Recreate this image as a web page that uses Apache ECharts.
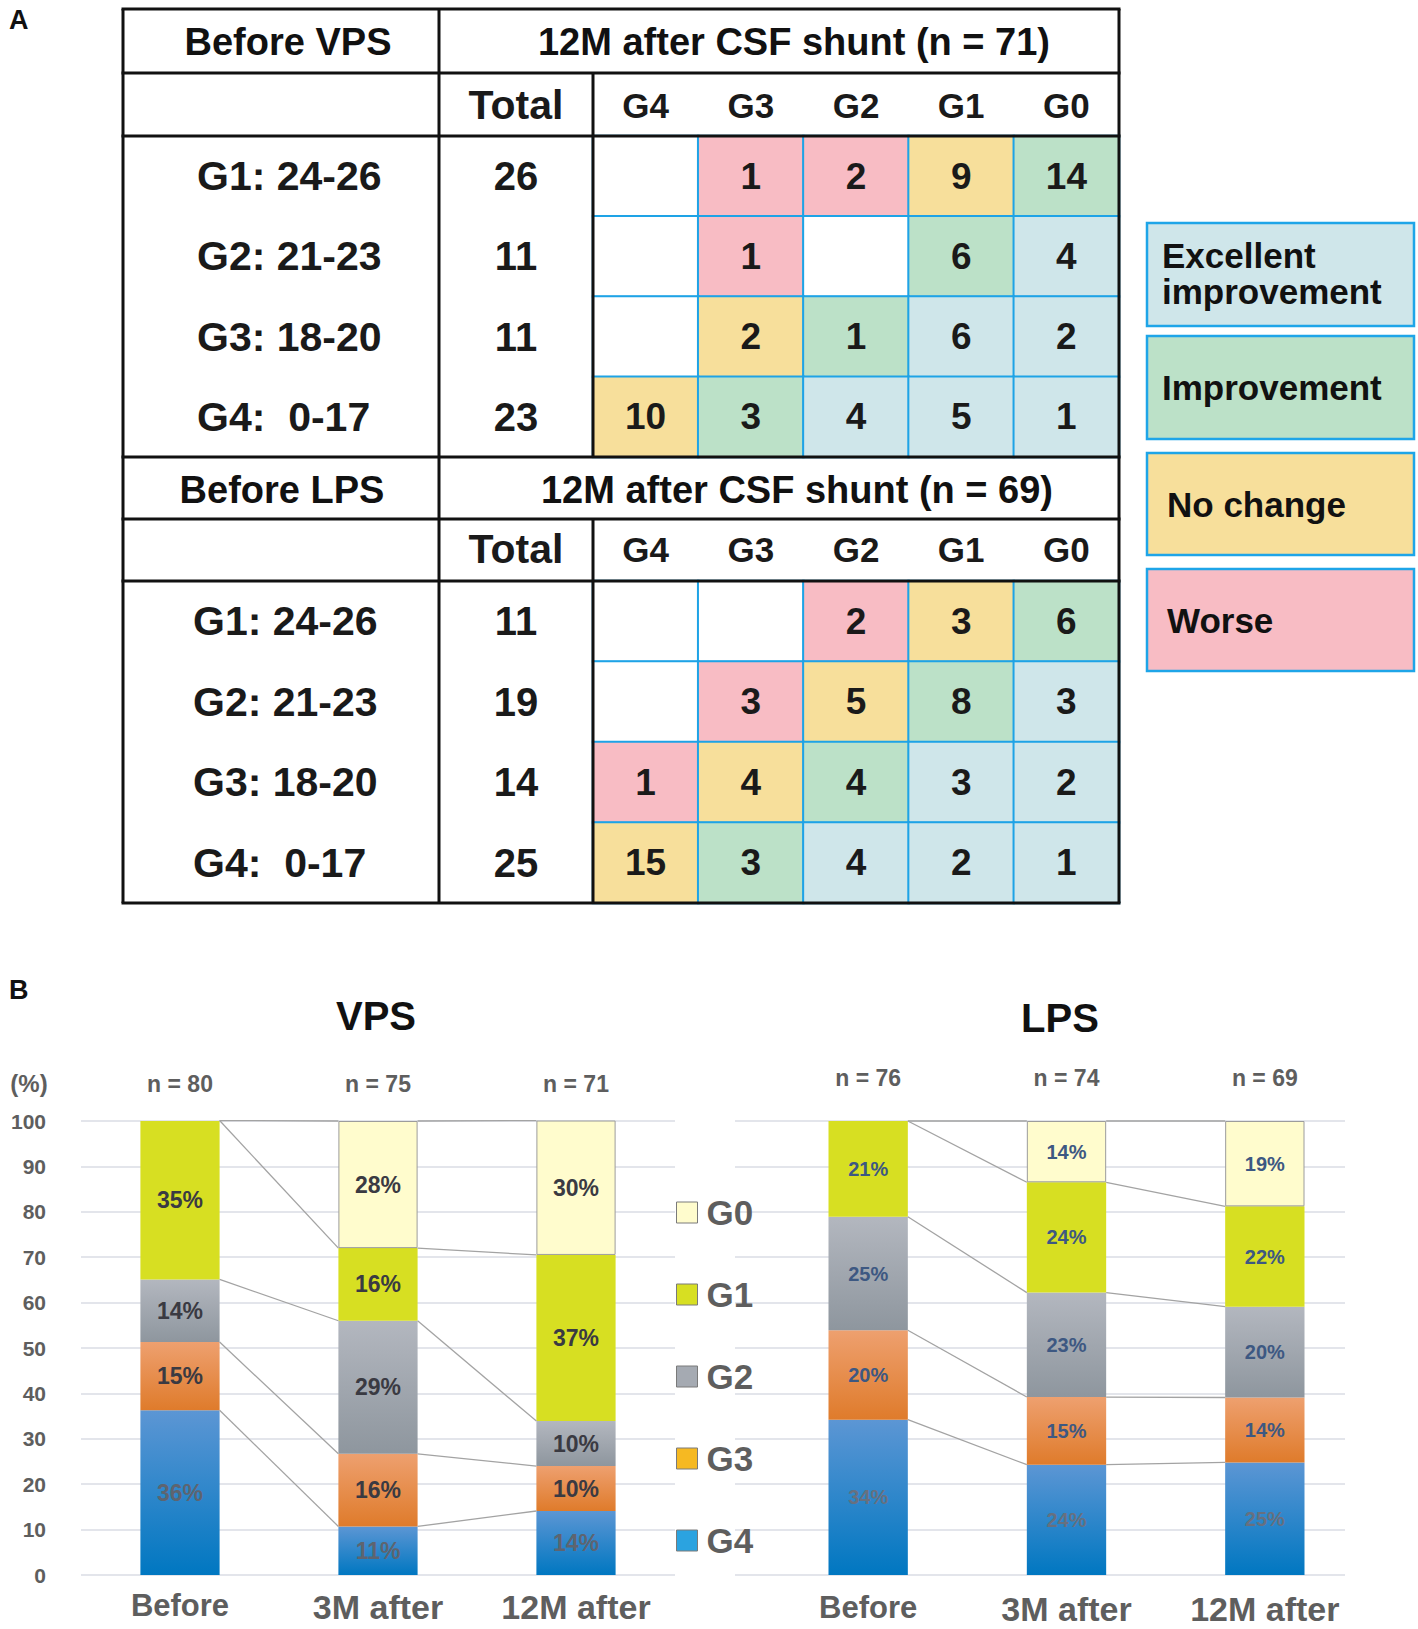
<!DOCTYPE html>
<html><head><meta charset="utf-8">
<script src="https://cdn.jsdelivr.net/npm/echarts@6/dist/echarts.min.js"></script>
<style>html,body{margin:0;padding:0;background:#fff}#c{width:1418px;height:1629px}</style>
</head><body><div id="c"></div>
<script>
// ---------- Panel A data ----------
const gradeCols = ['G4','G3','G2','G1','G0'];
const rowLabels = ['G1: 24-26','G2: 21-23','G3: 18-20','G4:  0-17'];
const vpsTotals = [26, 11, 11, 23];
const vpsCells = [[0,1,2,9,14],[0,1,0,6,4],[0,2,1,6,2],[10,3,4,5,1]];
const lpsTotals = [11, 19, 14, 25];
const lpsCells = [[0,0,2,3,6],[0,3,5,8,3],[1,4,4,3,2],[15,3,4,2,1]];
const outcomeNames = ['Excellent\nimprovement','Improvement','No change','Worse'];

// ---------- Panel B data (percent of patients) ----------
const timepoints = ['Before','3M after','12M after'];
const vpsN = [80, 75, 71];
const lpsN = [76, 74, 69];
const vpsG4 = [36.3, 10.7, 14.1];
const vpsG3 = [15.0, 16.0, 9.9];
const vpsG2 = [13.8, 29.3, 9.9];
const vpsG1 = [35.0, 16.0, 36.6];
const vpsG0 = [0, 28.0, 29.6];
const lpsG4 = [34.2, 24.3, 24.8];
const lpsG3 = [19.7, 14.9, 14.3];
const lpsG2 = [25.0, 23.0, 20.0];
const lpsG1 = [21.1, 24.3, 22.1];
const lpsG0 = [0, 13.5, 18.8];
const legendNames = ['G0','G1','G2','G3','G4'];

// ---------- styles ----------
const F = "'Liberation Sans', Arial, Helvetica, sans-serif";
const FN = "'Liberation Sans Narrow', 'Liberation Sans', Arial, sans-serif";
const outcomeColors = ['#CFE6EA','#BCE1C8','#F7DF9B','#F8BCC4'];
const cellBorder = '#1EA3E6';
const grad = (a,b)=>new echarts.graphic.LinearGradient(0,0,0,1,[{offset:0,color:a},{offset:1,color:b}]);
const barColors = {
  G4: ()=>grad('#5C96D4','#0077C1'),
  G3: ()=>grad('#EEA06F','#DF7B2B'),
  G2: ()=>grad('#B3B7BF','#8E969E'),
  G1: ()=>'#D7DF22',
  G0: ()=>'#FFFCCD'
};

function cellData(cells){
  const out=[];
  cells.forEach((row,r)=>row.forEach((v,c)=>{
    const diff = (r+1) - (4-c);
    const cls = diff<0 ? 3 : diff===0 ? 2 : diff===1 ? 1 : 0;
    out.push({value:[c,r,v], itemStyle:{color: v>0 ? outcomeColors[cls] : '#FFFFFF'}});
  }));
  return out;
}
function totalData(t){ return t.map((v,r)=>({value:[0,r,v], itemStyle:{color:'#FFFFFF'}})); }

function cumulative(series){ // series: [G4,G3,G2,G1,G0]
  const out=[]; const acc=[0,0,0];
  series.forEach(s=>{ s.forEach((v,i)=>acc[i]+=v); out.push(acc.slice()); });
  return out;
}
function connectorData(series){
  const cum = cumulative(series); const d=[];
  for(let i=0;i<2;i++) cum.forEach(c=>d.push([i, c[i], c[i+1]]));
  return d;
}
function connectorItem(params, api){
  const i = api.value(0);
  const p1 = api.coord([i, api.value(1)]);
  const p2 = api.coord([i+1, api.value(2)]);
  const bw = api.size([1,0])[0]*0.4;
  return {type:'line', shape:{x1:p1[0]+bw/2, y1:p1[1], x2:p2[0]-bw/2, y2:p2[1]},
          style:{stroke:'#A3A3A3', lineWidth:1.3}};
}

// ---------- layout ----------
const X0=123, X1=439, X2=593, X3=1119;
const Y=[9,73,136,457,519,581,903];

const grids = [
  {left:X1, top:Y[2], width:X2-X1, height:Y[3]-Y[2]},   //0 VPS total
  {left:X2, top:Y[2], width:X3-X2, height:Y[3]-Y[2]},   //1 VPS cells
  {left:X1, top:Y[5], width:X2-X1, height:Y[6]-Y[5]},   //2 LPS total
  {left:X2, top:Y[5], width:X3-X2, height:Y[6]-Y[5]},   //3 LPS cells
  {left:81, top:1121, width:594, height:454},           //4 VPS bars
  {left:735, top:1121, width:610, height:454},          //5 LPS gridlines
  {left:769, top:1121, width:595, height:454}           //6 LPS bars
];

const hid = {show:false};
const timeLabel = (margin)=>({margin, interval:0, fontFamily:F, fontWeight:'bold', color:'#5E5E5E',
   formatter:(v,i)=> i===0 ? '{a|'+v+'}' : '{b|'+v+'}',
   rich:{a:{fontFamily:F, fontWeight:'bold', fontSize:31, color:'#5E5E5E'},
         b:{fontFamily:F, fontWeight:'bold', fontSize:34, color:'#5E5E5E'}}});
const xAxis = [
  {gridIndex:0, type:'category', data:['Total'], position:'top', axisLine:hid, axisTick:hid,
   axisLabel:{margin:31, verticalAlign:'middle', fontFamily:FN, fontWeight:'bold', fontSize:41, color:'#1a1a1a'}},
  {gridIndex:1, type:'category', data:gradeCols, position:'top', axisLine:hid, axisTick:hid,
   axisLabel:{margin:31, verticalAlign:'middle', fontFamily:F, fontWeight:'bold', fontSize:35, color:'#1a1a1a'}},
  {gridIndex:2, type:'category', data:['Total'], position:'top', axisLine:hid, axisTick:hid,
   axisLabel:{margin:32, verticalAlign:'middle', fontFamily:FN, fontWeight:'bold', fontSize:41, color:'#1a1a1a'}},
  {gridIndex:3, type:'category', data:gradeCols, position:'top', axisLine:hid, axisTick:hid,
   axisLabel:{margin:32, verticalAlign:'middle', fontFamily:F, fontWeight:'bold', fontSize:35, color:'#1a1a1a'}},
  {gridIndex:4, type:'category', data:timepoints, axisLine:hid, axisTick:hid, axisLabel:timeLabel(15)},
  {gridIndex:5, type:'category', data:timepoints, show:false},
  {gridIndex:6, type:'category', data:timepoints, axisLine:hid, axisTick:hid, axisLabel:timeLabel(17)},
  {gridIndex:4, type:'category', data:vpsN.map(n=>'n = '+n), position:'top', axisLine:hid, axisTick:hid,
   axisLabel:{margin:37, verticalAlign:'middle', fontFamily:F, fontWeight:'bold', fontSize:23, color:'#5E5E5E', interval:0}},
  {gridIndex:6, type:'category', data:lpsN.map(n=>'n = '+n), position:'top', axisLine:hid, axisTick:hid,
   axisLabel:{margin:43, verticalAlign:'middle', fontFamily:F, fontWeight:'bold', fontSize:23, color:'#5E5E5E', interval:0}}
];
const rowAxisLabel = (m)=>({margin:m, align:'left', fontFamily:F, fontWeight:'bold', fontSize:41, color:'#1a1a1a'});
const valueAxis = (gi, showLabel, showSplit)=>({gridIndex:gi, type:'value', min:0, max:100, interval:10,
   axisLine:hid, axisTick:hid,
   axisLabel:{show:showLabel, margin:35, fontFamily:F, fontWeight:'bold', fontSize:21, color:'#5E5E5E'},
   splitLine:{show:showSplit, lineStyle:{color:'#DADDE5', width:1.6}}});
const yAxis = [
  {gridIndex:0, type:'category', data:rowLabels, inverse:true, axisLine:hid, axisTick:hid, axisLabel:rowAxisLabel(X1-197)},
  {gridIndex:1, type:'category', data:rowLabels, inverse:true, show:false},
  {gridIndex:2, type:'category', data:rowLabels, inverse:true, axisLine:hid, axisTick:hid, axisLabel:rowAxisLabel(X1-193)},
  {gridIndex:3, type:'category', data:rowLabels, inverse:true, show:false},
  valueAxis(4, true, true),
  valueAxis(5, false, true),
  valueAxis(6, false, false)
];

const cellLabel = {show:true, fontFamily:F, fontWeight:'bold', fontSize:37, color:'#1a1a1a',
  formatter:p=>p.value[2]>0 ? String(p.value[2]) : ''};
const totalLabel = {show:true, fontFamily:F, fontWeight:'bold', fontSize:40, color:'#1a1a1a',
  formatter:p=>String(p.value[2])};
const series = [
  {type:'heatmap', xAxisIndex:0, yAxisIndex:0, data:totalData(vpsTotals), silent:true,
   itemStyle:{borderWidth:0}, label:totalLabel},
  {type:'heatmap', xAxisIndex:1, yAxisIndex:1, data:cellData(vpsCells), silent:true,
   itemStyle:{borderColor:cellBorder, borderWidth:2}, label:cellLabel},
  {type:'heatmap', xAxisIndex:2, yAxisIndex:2, data:totalData(lpsTotals), silent:true,
   itemStyle:{borderWidth:0}, label:totalLabel},
  {type:'heatmap', xAxisIndex:3, yAxisIndex:3, data:cellData(lpsCells), silent:true,
   itemStyle:{borderColor:cellBorder, borderWidth:2}, label:cellLabel}
];

function addBars(prefix, arrs, xi, yi, labelColor, g4LabelColor, fs){
  const names=['G4','G3','G2','G1','G0'];
  names.forEach((nm,k)=>{
    series.push({type:'bar', name:nm, stack:prefix, xAxisIndex:xi, yAxisIndex:yi, barWidth:'40%',
      data:arrs[k].map(v=>v>0?v:'-'), silent:true,
      itemStyle:Object.assign({color:barColors[nm]()}, nm==='G0'?{borderColor:'#9C9C9C', borderWidth:1}:{}),
      label:{show:true, position:'inside', fontFamily:F, fontWeight:'bold', fontSize:fs,
        color: nm==='G4'?g4LabelColor:labelColor, formatter:p=>Math.round(p.value)+'%'}});
  });
  series.push({type:'custom', xAxisIndex:xi, yAxisIndex:yi, data:connectorData(arrs), renderItem:connectorItem,
    encode:{x:0, y:[1,2]}, silent:true, z:3});
}
addBars('vps', [vpsG4,vpsG3,vpsG2,vpsG1,vpsG0], 4, 4, '#3A3A42', '#5E6470', 23);
addBars('lps', [lpsG4,lpsG3,lpsG2,lpsG1,lpsG0], 6, 6, '#3D5882', '#677080', 20);

// ---------- graphic: table frame, key, headings ----------
const G=[];
const line=(x1,y1,x2,y2,c,w)=>G.push({type:'line', z:100, silent:true, shape:{x1,y1,x2,y2}, style:{stroke:c||'#111', lineWidth:w||3}});
const txt=(t,x,y,o)=>G.push({type:'text', z:101, silent:true, x, y,
   style:Object.assign({text:t, fill:'#111', font:'bold 38px '+F, textAlign:'center', textVerticalAlign:'middle'}, o||{})});
Y.forEach(y=>line(X0-1.5,y,X3+1.5,y));
[X0,X1,X3].forEach(x=>line(x,Y[0],x,Y[6]));
line(X2,Y[1],X2,Y[3]); line(X2,Y[4],X2,Y[6]);

txt('Before VPS', 288, 42);
txt('12M after CSF shunt (n = '+vpsN[2]+')', 794, 42);
txt('Before LPS', 282, 490);
txt('12M after CSF shunt (n = '+lpsN[2]+')', 797, 490);

const keyBoxes=[[223,326],[336,439],[453,555],[569,671]];
keyBoxes.forEach((b,i)=>{
  G.push({type:'rect', z:50, silent:true, shape:{x:1147, y:b[0], width:267, height:b[1]-b[0]},
    style:{fill:outcomeColors[i], stroke:'#1EA5E8', lineWidth:2.5}});
  txt(outcomeNames[i], i<2?1162:1167, (b[0]+b[1])/2+(i===0?-1:0),
    {textAlign:'left', font:'bold 35px '+F, lineHeight:36});
});

txt('A', 9, 20, {textAlign:'left', font:'bold 27px '+F});
txt('B', 9, 990, {textAlign:'left', font:'bold 27px '+F});
txt('VPS', 376, 1016, {font:'bold 40px '+F});
txt('LPS', 1060, 1018, {font:'bold 40px '+F});
txt('(%)', 29, 1083, {font:'bold 24px '+F, fill:'#5E5E5E'});

const legendColors = ['#FFFCCD','#D7DF22','#A5AAB2','#F6B922','#2BA3E0'];
const option = {
  animation:false,
  backgroundColor:'#fff',
  grid:grids, xAxis, yAxis, series, graphic:G,
  legend:{orient:'vertical', left:676, top:1195, padding:0, itemWidth:21, itemHeight:21, itemGap:47, icon:'rect',
    selectedMode:false,
    textStyle:{fontFamily:F, fontWeight:'bold', fontSize:35, lineHeight:35, color:'#5E5E5E', padding:[0,0,0,4]},
    data:legendNames.map((n,i)=>({name:n, itemStyle:{color:legendColors[i], borderColor:'#7A7A7A', borderWidth:1}}))}
};
const chart = echarts.init(document.getElementById('c'), null, {renderer:'svg', width:1418, height:1629});
chart.setOption(option);
</script>
</body></html>
